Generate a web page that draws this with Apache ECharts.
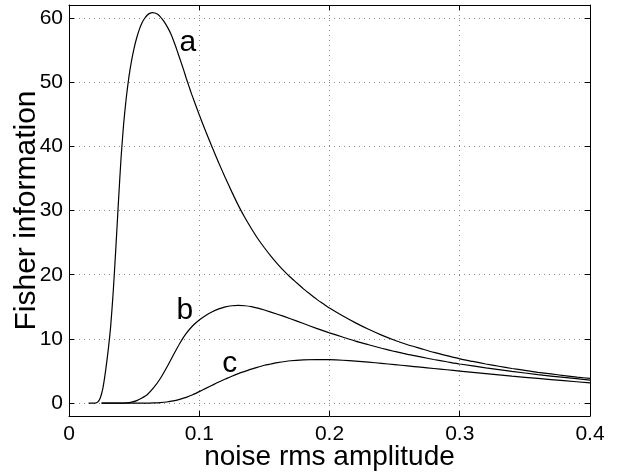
<!DOCTYPE html>
<html>
<head>
<meta charset="utf-8">
<script src="https://cdn.jsdelivr.net/npm/echarts@6/dist/echarts.min.js"></script>
<style>
    html, body { margin: 0; padding: 0; background: #fff; }
    #chart { width: 627px; height: 475px; }
</style>
</head>
<body>
<div id="chart"></div>
<script>
const yTicks = [0, 10, 20, 30, 40, 50, 60];

// curve a
const aX = [0.015, 0.02, 0.022, 0.024, 0.026, 0.028, 0.03, 0.032, 0.034, 0.036, 0.038, 0.04, 0.042, 0.044,
    0.046, 0.048, 0.05, 0.052, 0.054, 0.056, 0.058, 0.06, 0.062, 0.064, 0.066, 0.068, 0.07, 0.072, 0.074,
    0.076, 0.078, 0.08, 0.082, 0.084, 0.086, 0.088, 0.09, 0.092, 0.094, 0.096, 0.098, 0.1, 0.105, 0.11,
    0.115, 0.12, 0.125, 0.13, 0.135, 0.14, 0.145, 0.15, 0.155, 0.16, 0.165, 0.17, 0.175, 0.18, 0.185, 0.19,
    0.195, 0.2, 0.21, 0.22, 0.23, 0.24, 0.25, 0.26, 0.27, 0.28, 0.29, 0.3, 0.31, 0.32, 0.33, 0.34, 0.35,
    0.36, 0.37, 0.38, 0.39, 0.4];
const aY = [0, 0, 0.15, 0.8, 2.3, 4.9, 8.1, 12.0, 17.5, 24.3, 31.5, 38.3, 43.6, 47.6,
    50.8, 53.3, 55.3, 56.9, 58.2, 59.2, 59.9, 60.4, 60.7, 60.8, 60.75, 60.55, 60.2, 59.7, 59.1,
    58.4, 57.6, 56.6, 55.5, 54.3, 53.1, 51.9, 50.6, 49.4, 48.2, 47.1, 46.0, 44.9, 42.3, 39.8,
    37.4, 35.1, 32.9, 30.8, 28.9, 27.2, 25.6, 24.2, 22.9, 21.7, 20.6, 19.6, 18.7, 17.8, 17.0, 16.2,
    15.5, 14.8, 13.6, 12.5, 11.5, 10.6, 9.8, 9.1, 8.5, 7.9, 7.4, 6.9, 6.5, 6.1, 5.75, 5.4, 5.1,
    4.8, 4.55, 4.3, 4.05, 3.85];

// curve b
const bX = [0.025, 0.04, 0.044, 0.048, 0.052, 0.056, 0.06, 0.065, 0.07, 0.075, 0.08, 0.085, 0.09, 0.095,
    0.1, 0.105, 0.11, 0.115, 0.12, 0.125, 0.13, 0.135, 0.14, 0.145, 0.15, 0.16, 0.17, 0.18,
    0.19, 0.2, 0.21, 0.22, 0.23, 0.24, 0.25, 0.26, 0.27, 0.28, 0.29, 0.3, 0.32, 0.34, 0.36, 0.38, 0.4];
const bY = [0, 0, 0.03, 0.15, 0.4, 0.8, 1.3, 2.4, 3.8, 5.55, 7.45, 9.3, 10.85, 12.05,
    12.95, 13.65, 14.22, 14.68, 15.0, 15.17, 15.22, 15.17, 15.03, 14.8, 14.5, 13.85, 13.15, 12.4,
    11.65, 10.95, 10.3, 9.65, 9.1, 8.55, 8.05, 7.6, 7.2, 6.8, 6.45, 6.1, 5.5, 4.95, 4.45, 4.0, 3.6];

// curve c
const cX = [0.025, 0.06, 0.065, 0.07, 0.075, 0.08, 0.085, 0.09, 0.095, 0.1, 0.105, 0.11, 0.115, 0.12,
    0.125, 0.13, 0.135, 0.14, 0.145, 0.15, 0.155, 0.16, 0.17, 0.18, 0.19, 0.2, 0.21, 0.22, 0.23, 0.24,
    0.25, 0.26, 0.27, 0.28, 0.29, 0.3, 0.32, 0.34, 0.36, 0.38, 0.4];
const cY = [0, 0, 0.03, 0.08, 0.18, 0.35, 0.6, 0.9, 1.3, 1.8, 2.3, 2.8, 3.3, 3.75,
    4.2, 4.6, 4.95, 5.3, 5.6, 5.9, 6.1, 6.3, 6.6, 6.75, 6.8, 6.77, 6.68, 6.55, 6.38, 6.2,
    6.0, 5.8, 5.6, 5.4, 5.2, 5.0, 4.6, 4.2, 3.85, 3.5, 3.15];

// curve labels placed in data coordinates
const labelNames = ["a", "b", "c"];
const labelX = [0.0913, 0.089, 0.1235];
const labelY = [56.2, 14.35, 6.1];

const font = "Liberation Sans, Arial, Helvetica, sans-serif";

function pairs(xs, ys) {
    return xs.map((x, i) => [x, ys[i]]);
}

function curve(name, xs, ys) {
    return {
        name: name,
        type: "line",
        data: pairs(xs, ys),
        showSymbol: false,
        smooth: 0.2,
        lineStyle: { color: "#000", width: 1.2 },
        silent: true,
        z: 3
    };
}

const chart = echarts.init(document.getElementById("chart"), null, { renderer: "canvas" });

const gridLine = { show: true, lineStyle: { color: "#8a8a8a", type: [1, 4], width: 1 } };
const boxLine = { show: true, onZero: false, lineStyle: { color: "#000", width: 1 } };
const tick = { show: true, inside: true, length: 5, lineStyle: { color: "#000" } };

chart.setOption({
    animation: false,
    backgroundColor: "#fff",
    textStyle: { fontFamily: font },
    grid: { left: 69, right: 37, top: 5, bottom: 59, outerBoundsMode: "none", containLabel: false },
    xAxis: [
        {
            type: "value",
            min: 0,
            max: 0.4,
            interval: 0.1,
            position: "bottom",
            name: "noise rms amplitude",
            nameLocation: "middle",
            nameGap: 27,
            nameMoveOverlap: false,
            nameTextStyle: { fontSize: 28, color: "#000", fontFamily: font },
            axisLine: boxLine,
            axisTick: tick,
            axisLabel: { fontSize: 21, color: "#000", margin: 8, fontFamily: font },
            splitLine: gridLine
        },
        {
            type: "value",
            min: 0,
            max: 0.4,
            interval: 0.1,
            position: "top",
            axisLine: boxLine,
            axisTick: tick,
            axisLabel: { show: false },
            splitLine: { show: false }
        }
    ],
    yAxis: [
        {
            type: "value",
            min: -2,
            max: 62,
            position: "left",
            name: "Fisher information",
            nameLocation: "middle",
            nameGap: 27,
            nameMoveOverlap: false,
            nameTextStyle: { fontSize: 30, color: "#000", fontFamily: font },
            axisLine: boxLine,
            axisTick: Object.assign({ customValues: yTicks }, tick),
            axisLabel: { fontSize: 21, color: "#000", margin: 6, customValues: yTicks, fontFamily: font },
            splitLine: gridLine
        },
        {
            type: "value",
            min: -2,
            max: 62,
            position: "right",
            axisLine: boxLine,
            axisTick: Object.assign({ customValues: yTicks }, tick),
            axisLabel: { show: false },
            splitLine: { show: false }
        }
    ],
    series: [
        curve("a", aX, aY),
        curve("b", bX, bY),
        curve("c", cX, cY),
        {
            name: "labels",
            type: "scatter",
            symbolSize: 0,
            silent: true,
            itemStyle: { color: "#000", opacity: 0 },
            data: labelNames.map((n, i) => ({ name: n, value: [labelX[i], labelY[i]] })),
            label: {
                show: true,
                position: "inside",
                formatter: p => p.name,
                fontSize: 30,
                color: "#000",
                textBorderWidth: 0,
                opacity: 1,
                fontFamily: font
            },
            z: 4
        }
    ]
});
</script>
</body>
</html>
